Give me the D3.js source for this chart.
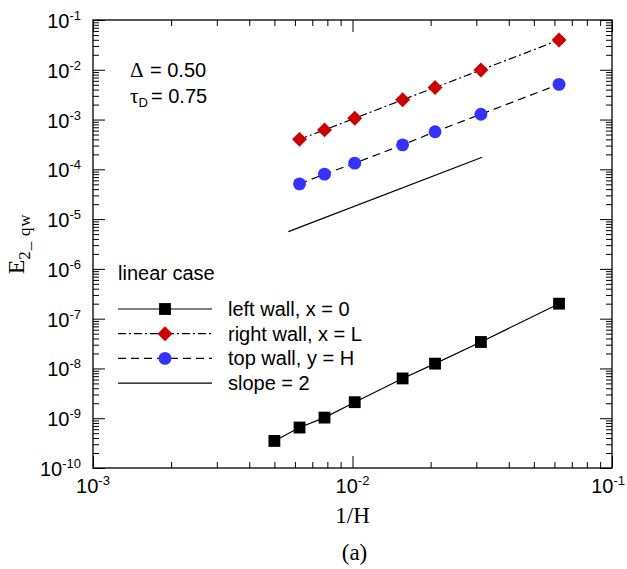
<!DOCTYPE html>
<html>
<head>
<meta charset="utf-8">
<script src="https://cdn.jsdelivr.net/npm/d3@7"></script>
<style>
  body { margin: 0; background: #fff; }
</style>
</head>
<body>
<div id="chart"></div>
<script>
// Data
const invH = [0.005, 0.00625, 0.0078, 0.0102, 0.0156, 0.0208, 0.03125, 0.0625];
const leftWall = [3.5e-10, 6.5e-10, 1.03e-9, 2.1e-9, 6.3e-9, 1.25e-8, 3.4e-8, 2.0e-7];
const rightWall = [4.0e-4, 6.2e-4, 1.06e-3, 2.5e-3, 4.4e-3, 9.9e-3, 3.95e-2];
const topWall = [5.1e-5, 8.0e-5, 1.33e-4, 3.1e-4, 5.7e-4, 1.28e-3, 5.1e-3];
const slopeX = [0.00566, 0.0316];
const slopeY = [5.6e-6, 1.75e-4];
const xExponents = [-3, -2, -1];
const yExponents = [-10, -9, -8, -7, -6, -5, -4, -3, -2, -1];
const legendLabels = ["left wall, x = 0", "right wall, x = L", "top wall, y = H", "slope = 2"];

const width = 627, height = 569;
const margin = { top: 20, right: 15, bottom: 101, left: 93 };

const red = "#cc0000", blue = "#3333ff";

const svg = d3.select("#chart").append("svg")
  .attr("width", width)
  .attr("height", height);

// Log scales for both axes
const x = d3.scaleLog()
  .domain([1e-3, 1e-1])
  .range([margin.left, width - margin.right]);
const y = d3.scaleLog()
  .domain([1e-10, 1e-1])
  .range([height - margin.bottom, margin.top]);

const xMajor = xExponents.map(e => Math.pow(10, e));
const yMajor = yExponents.map(e => Math.pow(10, e));
const minorOf = majors => {
  const out = [];
  majors.slice(0, -1).forEach(m => {
    for (let k = 2; k <= 9; k++) out.push(k * m);
  });
  return out;
};
const xMinor = minorOf(xMajor);
const yMinor = minorOf(yMajor);

// Ticks on all four sides, pointing inward
function addTicks(axisFn, scale, transform, values, size) {
  const g = svg.append("g")
    .attr("transform", transform)
    .call(axisFn(scale).tickValues(values).tickSizeInner(-size).tickSizeOuter(0).tickFormat(""));
  g.select(".domain").remove();
  g.selectAll(".tick line").attr("stroke", "#000").attr("stroke-width", 1);
  g.selectAll(".tick text").remove();
}
const x0 = margin.left, x1 = width - margin.right;
const y0 = height - margin.bottom, y1 = margin.top;
[[xMajor, 12], [xMinor, 6]].forEach(([vals, s]) => {
  addTicks(d3.axisBottom, x, `translate(0,${y0})`, vals, s);
  addTicks(d3.axisTop, x, `translate(0,${y1})`, vals, s);
});
[[yMajor, 12], [yMinor, 6]].forEach(([vals, s]) => {
  addTicks(d3.axisLeft, y, `translate(${x0},0)`, vals, s);
  addTicks(d3.axisRight, y, `translate(${x1},0)`, vals, s);
});

// Frame
svg.append("rect")
  .attr("x", x0).attr("y", y1)
  .attr("width", x1 - x0).attr("height", y0 - y1)
  .attr("fill", "none").attr("stroke", "#000").attr("stroke-width", 1.3);

// Tick labels as 10^n
const labelFont = "'Liberation Sans', Arial, Helvetica, sans-serif";
function powerLabel(sel, e) {
  sel.append("tspan").text("10");
  sel.append("tspan").attr("dy", -8).attr("font-size", 13).text(e);
}
xExponents.forEach((e, i) => {
  const last = i === xExponents.length - 1;
  svg.append("text")
    .attr("x", last ? width - 2 : x(Math.pow(10, e)))
    .attr("y", y0 + 25)
    .attr("text-anchor", last ? "end" : "middle")
    .attr("font-family", labelFont)
    .attr("font-size", 20)
    .call(powerLabel, e);
});
yExponents.forEach(e => {
  svg.append("text")
    .attr("x", x0 - 12)
    .attr("y", y(Math.pow(10, e)) + 8)
    .attr("text-anchor", "end")
    .attr("font-family", labelFont)
    .attr("font-size", 20)
    .call(powerLabel, e);
});

// Axis titles
const serif = "'Liberation Serif', 'Times New Roman', Times, serif";
svg.append("text")
  .attr("x", (x0 + x1) / 2)
  .attr("y", 523)
  .attr("text-anchor", "middle")
  .attr("font-family", serif)
  .attr("font-size", 23)
  .text("1/H");
const yTitle = svg.append("text")
  .attr("transform", `translate(24,${(y0 + y1) / 2}) rotate(-90)`)
  .attr("text-anchor", "middle")
  .attr("font-family", serif)
  .attr("font-size", 24);
yTitle.append("tspan").text("E");
yTitle.append("tspan").attr("dy", 6).attr("font-size", 17).attr("letter-spacing", 0.8).text("2_ qw");
svg.append("text")
  .attr("x", (x0 + x1) / 2 + 2)
  .attr("y", 560)
  .attr("text-anchor", "middle")
  .attr("font-family", serif)
  .attr("font-size", 23)
  .text("(a)");

// Series lines
const line = d3.line().x(d => x(d[0])).y(d => y(d[1]));
const leftPts = invH.map((h, i) => [h, leftWall[i]]);
const rightPts = invH.slice(1).map((h, i) => [h, rightWall[i]]);
const topPts = invH.slice(1).map((h, i) => [h, topWall[i]]);
const slopePts = slopeX.map((h, i) => [h, slopeY[i]]);

const dashRight = "8,3,2,3";
const dashTop = "8,5";

svg.append("path").datum(leftPts).attr("d", line)
  .attr("fill", "none").attr("stroke", "#000").attr("stroke-width", 1.2);
svg.append("path").datum(rightPts).attr("d", line)
  .attr("fill", "none").attr("stroke", "#000").attr("stroke-width", 1.2)
  .attr("stroke-dasharray", dashRight);
svg.append("path").datum(topPts).attr("d", line)
  .attr("fill", "none").attr("stroke", "#000").attr("stroke-width", 1.2)
  .attr("stroke-dasharray", dashTop);
svg.append("path").datum(slopePts).attr("d", line)
  .attr("fill", "none").attr("stroke", "#000").attr("stroke-width", 1.2);

// Markers
const squareSym = d3.symbol().type(d3.symbolSquare).size(140);
const diamondSym = d3.symbol().type(d3.symbolSquare).size(112);
const circleSym = d3.symbol().type(d3.symbolCircle).size(130);

svg.selectAll(".sq").data(leftPts).enter().append("path")
  .attr("class", "sq")
  .attr("d", squareSym)
  .attr("transform", d => `translate(${x(d[0])},${y(d[1])})`)
  .attr("fill", "#000");
svg.selectAll(".dm").data(rightPts).enter().append("path")
  .attr("class", "dm")
  .attr("d", diamondSym)
  .attr("transform", d => `translate(${x(d[0])},${y(d[1])}) rotate(45)`)
  .attr("fill", red);
svg.selectAll(".ci").data(topPts).enter().append("path")
  .attr("class", "ci")
  .attr("d", circleSym)
  .attr("transform", d => `translate(${x(d[0])},${y(d[1])})`)
  .attr("fill", blue);

// Parameter annotation
const ann = svg.append("g").attr("font-family", labelFont).attr("font-size", 20);
ann.append("text").attr("x", 130).attr("y", 77)
  .call(t => {
    t.append("tspan").attr("font-family", serif).attr("font-size", 21).text("\u0394");
    t.append("tspan").attr("x", 150).text("= 0.50");
  });
ann.append("text").attr("x", 130).attr("y", 103)
  .call(t => {
    t.append("tspan").attr("font-family", serif).attr("font-size", 21).text("\u03c4");
    t.append("tspan").attr("dy", 4).attr("font-size", 13).text("D");
    t.append("tspan").attr("x", 151).attr("dy", -4).text("= 0.75");
  });

// Legend
const legend = svg.append("g").attr("font-family", labelFont).attr("font-size", 20);
legend.append("text").attr("x", 118).attr("y", 280).text("linear case");
const styles = [
  { dash: null, sym: squareSym, fill: "#000", rot: 0 },
  { dash: dashRight, sym: diamondSym, fill: red, rot: 45 },
  { dash: dashTop, sym: circleSym, fill: blue, rot: 0 },
  { dash: null, sym: null, fill: null, rot: 0 }
];
legendLabels.forEach((label, i) => {
  const ly = 309 + i * 24.7;
  const st = styles[i];
  legend.append("line")
    .attr("x1", 118).attr("x2", 212)
    .attr("y1", ly).attr("y2", ly)
    .attr("stroke", "#000").attr("stroke-width", 1.2)
    .attr("stroke-dasharray", st.dash);
  if (st.sym) {
    legend.append("path")
      .attr("d", st.sym)
      .attr("transform", `translate(165,${ly}) rotate(${st.rot})`)
      .attr("fill", st.fill);
  }
  legend.append("text").attr("x", 228).attr("y", ly + 7).text(label);
});
</script>
</body>
</html>
